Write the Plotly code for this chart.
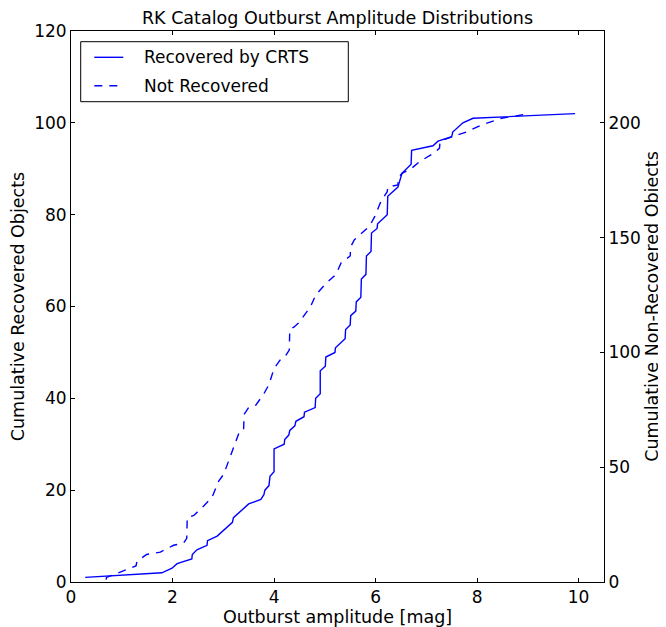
import plotly.graph_objects as go

# Recovered by CRTS: outburst amplitude [mag] vs cumulative count (left axis)
rec_amp = [0.28, 1.79, 1.99, 2.09, 2.38, 2.39, 2.48, 2.68, 2.69, 2.88, 3.18, 3.20,
           3.50, 3.74, 3.80, 3.82, 3.90, 3.92, 4.00, 4.00, 4.20, 4.21, 4.29, 4.31,
           4.41, 4.43, 4.59, 4.60, 4.81, 4.82, 4.91, 4.91, 5.01, 5.02, 5.20, 5.21,
           5.40, 5.41, 5.50, 5.51, 5.61, 5.62, 5.71, 5.72, 5.81, 5.82, 5.91, 5.92,
           6.03, 6.04, 6.23, 6.24, 6.44, 6.52, 6.70, 6.71, 7.13, 7.23, 7.50, 7.52,
           7.72, 7.92, 9.93]
rec_cum = [1, 2, 3, 4, 5, 6, 7, 8, 9, 10, 13, 14,
           17, 18, 19, 20, 21, 23, 24, 29, 30, 31, 32, 33,
           34, 35, 36, 37, 38, 40, 41, 46, 47, 49, 50, 51,
           53, 55, 56, 58, 59, 61, 62, 66, 67, 71, 72, 76,
           77, 78, 80, 84, 86, 89, 91, 94, 95, 96, 97, 98,
           100, 101, 102]

# Not recovered: outburst amplitude [mag] vs cumulative count (right axis)
nrec_amp = [0.69, 0.70, 0.93, 1.28, 1.30, 1.49, 1.76, 2.02, 2.22, 2.28, 2.29, 2.42,
            2.61, 2.78, 2.91, 3.01, 3.11, 3.21, 3.31, 3.40, 3.41, 3.50, 3.64, 3.80,
            3.90, 4.00, 4.13, 4.21, 4.30, 4.31, 4.39, 4.49, 4.72, 4.82, 5.02, 5.22,
            5.32, 5.50, 5.51, 5.58, 5.88, 5.98, 6.11, 6.23, 6.24, 6.44, 6.45, 6.52,
            6.62, 6.70, 6.86, 7.00, 7.16, 7.26, 7.27, 7.52, 7.79, 8.08, 8.48, 8.77,
            9.00]
nrec_cum = [1, 2, 4, 7, 9, 12, 13, 16, 17, 19, 28, 29,
            33, 37, 44, 47, 53, 59, 65, 66, 73, 76, 77, 82,
            86, 93, 97, 98, 101, 110, 111, 113, 120, 125, 130, 134,
            139, 142, 146, 149, 155, 159, 166, 170, 172, 173, 176, 178,
            179, 180, 183, 185, 187, 189, 192, 194, 196, 199, 202, 203,
            204]

x_ticks = [0, 2, 4, 6, 8, 10]
y_left_ticks = [0, 20, 40, 60, 80, 100, 120]
y_right_ticks = [0, 50, 100, 150, 200]

series_names = ["Recovered by CRTS", "Not Recovered"]

BLUE = "#0000ff"
FONT = "DejaVu Sans"

fig = go.Figure()
fig.add_trace(go.Scatter(x=rec_amp, y=rec_cum, mode="lines", name=series_names[0],
                         line=dict(color=BLUE, width=1.4), yaxis="y"))
fig.add_trace(go.Scatter(x=nrec_amp, y=nrec_cum, mode="lines", name=series_names[1],
                         line=dict(color=BLUE, width=1.4, dash="8px,7px"), yaxis="y2"))

# the page body adds an 8px offset; size the figure so the plot lands where the reference has it
OFF = 8
W, H = 658, 619
L, T = 71 - OFF, 31 - OFF
pw, ph = 533, 551
R = W - L - pw
B = H - T - ph

def px_x(px):  # window pixel -> paper
    return (px - OFF - L) / pw

def px_y(py):
    return (T + ph - (py - OFF)) / ph

axis_common = dict(showgrid=False, zeroline=False, showline=True, linecolor="black",
                   linewidth=1, ticks="inside", ticklen=4, tickcolor="black",
                   tickfont=dict(family=FONT, size=17, color="black"))

fig.update_layout(
    width=W, height=H,
    margin=dict(l=L, r=R, t=T, b=B, autoexpand=False),
    paper_bgcolor="white", plot_bgcolor="white",
    showlegend=False,
    title=dict(text="RK Catalog Outburst Amplitude Distributions",
               x=(L + pw / 2) / W, xanchor="center",
               y=1 - (17.5 - OFF) / H, yanchor="middle",
               font=dict(family=FONT, size=17.5, color="black")),
    xaxis=dict(range=[0, 10.5], tickvals=x_ticks, mirror="ticks",
               title=dict(text="Outburst amplitude [mag]", standoff=2,
                          font=dict(family=FONT, size=17.5, color="black")),
               **axis_common),
    yaxis=dict(range=[0, 120], tickvals=y_left_ticks,
               title=dict(text="Cumulative Recovered Objects", standoff=5,
                          font=dict(family=FONT, size=17.5, color="black")),
               **axis_common),
    yaxis2=dict(range=[0, 240], tickvals=y_right_ticks, overlaying="y", side="right",
                title=dict(text="Cumulative Non-Recovered Objects", standoff=5,
                           font=dict(family=FONT, size=17.5, color="black")),
                **axis_common),
)

# legend box (drawn manually to match the reference layout)
bx0, bx1, by0, by1 = 80.7, 348.3, 41.7, 101.7
fig.add_shape(type="rect", xref="paper", yref="paper",
              x0=px_x(bx0), x1=px_x(bx1), y0=px_y(by1), y1=px_y(by0),
              line=dict(color="black", width=1), fillcolor="white", layer="above")
rows = [57.3, 85.7]
dashes = ["solid", "8px,7px"]
for name, ry, dsh in zip(series_names, rows, dashes):
    fig.add_shape(type="line", xref="paper", yref="paper",
                  x0=px_x(94.3), x1=px_x(123.3), y0=px_y(ry), y1=px_y(ry),
                  line=dict(color=BLUE, width=1.4, dash=dsh), layer="above")
    fig.add_annotation(text=name, xref="paper", yref="paper", x=px_x(141.7), y=px_y(ry),
                       xanchor="left", yanchor="middle", showarrow=False,
                       font=dict(family=FONT, size=17, color="black"))

fig.write_html("out.html")
